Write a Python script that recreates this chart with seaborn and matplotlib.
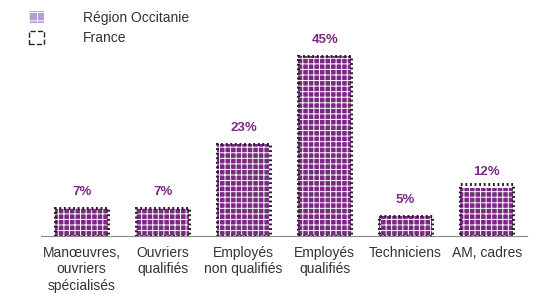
import numpy as np
import seaborn as sns
import matplotlib.pyplot as plt
from matplotlib.patches import Patch

categories = ["Manœuvres,\nouvriers\nspécialisés", "Ouvriers\nqualifiés", "Employés\nnon qualifiés",
              "Employés\nqualifiés", "Techniciens", "AM, cadres"]
occitanie = [7, 7, 23, 45, 5, 12]
france = [7, 7, 23, 45, 5, 13]
labels = ["7%", "7%", "23%", "45%", "5%", "12%"]

sns.set_style("white")
plt.rcParams['font.family'] = ['Liberation Sans', 'DejaVu Sans']
plt.rcParams['hatch.linewidth'] = 0.7

purple = "#7b2a83"

fig = plt.figure(figsize=(5.48, 2.96), dpi=100)
ax = fig.add_axes([0.075, 0.203, 0.887, 0.675])

# Occitanie: checkered purple bars
sns.barplot(x=categories, y=occitanie, color=purple, width=0.65, ax=ax, saturation=1)
for p in ax.patches:
    p.set_hatch("+++")
    p.set_edgecolor("white")
    p.set_linewidth(0)
n = len(ax.patches)

# France: dotted outline only
sns.barplot(x=categories, y=france, fill=False, width=0.65, ax=ax,
            edgecolor="#222222", linewidth=2.2, linestyle=":")
for p in ax.patches[n:]:
    p.set_linestyle((0, (0.6, 0.9)))

for i, (v, lab) in enumerate(zip(occitanie, labels)):
    ax.text(i, v + 4.0, lab, ha="center", va="center", color=purple,
            fontsize=9.5, fontweight="bold")

ax.set_ylim(0, 50)
ax.set_xlim(-0.5, len(categories) - 0.5)
ax.set_yticks([])
for s in ["top", "right", "left"]:
    ax.spines[s].set_visible(False)
ax.spines["bottom"].set_color("#888888")
ax.tick_params(axis="x", length=0, labelsize=10, labelcolor="#333333", pad=7)
for t in ax.get_xticklabels():
    t.set_linespacing(1.25)
ax.set_xticks(np.arange(-0.5, len(categories)), minor=True)
ax.tick_params(axis="x", which="minor", length=4, color="#888888", direction="out")

handles = [Patch(facecolor="#b89bd6", edgecolor="white", hatch="++", linewidth=0),
           Patch(facecolor="none", edgecolor="#222222", linestyle="--", linewidth=1)]
fig.legend(handles, ["Région Occitanie", "France"], loc="upper left",
           bbox_to_anchor=(0.03, 1.005), frameon=False, fontsize=10,
           handlelength=1.1, handleheight=1.0, handletextpad=2.8, labelspacing=0.45,
           labelcolor="#333333")

fig.savefig("out.png", dpi=100)
